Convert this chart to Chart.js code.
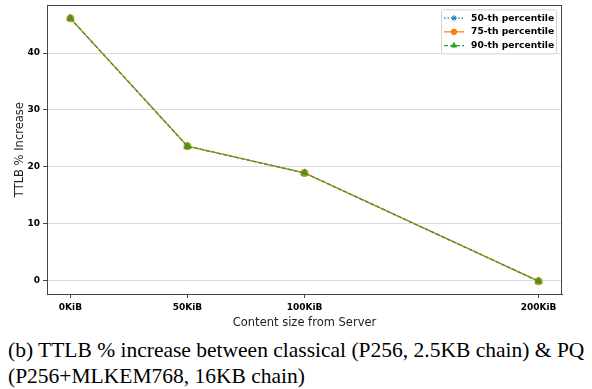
<!DOCTYPE html>
<html>
<head>
<meta charset="utf-8">
<script src="https://cdn.jsdelivr.net/npm/chart.js@4.4.0/dist/chart.umd.min.js"></script>
<style>
  html, body { margin: 0; padding: 0; background: #fff; }
  #wrap { position: relative; width: 592px; height: 330px; }
  #caption {
    font-family: "Liberation Serif", "Times New Roman", serif;
    font-size: 21.5px; line-height: 26px; color: #000;
    margin: 7px 0 0 8px; white-space: nowrap;
  }
</style>
</head>
<body>
<div id="wrap"><canvas id="c" width="592" height="330"></canvas></div>
<div id="caption">(b) TTLB % increase between classical (P256, 2.5KB chain) &amp; PQ<br>(P256+MLKEM768, 16KB chain)</div>
<script>
// ---- data ----
const contentSizes = [0, 50, 100, 200];            // KiB
const p50 = [46.1, 23.6, 18.9, -0.15];
const p75 = [46.1, 23.6, 18.9, -0.15];
const p90 = [46.1, 23.6, 18.9, -0.15];
const seriesLabels = ['50-th percentile', '75-th percentile', '90-th percentile'];
const xTickValues = [0, 50, 100, 200];
const yTickValues = [0, 10, 20, 30, 40];
const xTitle = 'Content size from Server';
const yTitle = 'TTLB % Increase';

const toPts = arr => contentSizes.map((x, i) => ({x: x, y: arr[i]}));

const frame = {
  id: 'frame',
  afterDraw(chart) {
    const {ctx, chartArea: a} = chart;
    ctx.save();
    ctx.strokeStyle = '#444';
    ctx.lineWidth = 1;
    ctx.strokeRect(Math.round(a.left) + 0.5, Math.round(a.top) + 0.5,
                   Math.round(a.right - a.left) - 1, Math.round(a.bottom - a.top));
    ctx.restore();
  }
};

const legendBox = {
  id: 'legendBox',
  afterDraw(chart) {
    const {ctx, chartArea: a} = chart;
    const dsets = chart.data.datasets;
    const boxW = 115, rowH = 13.7;
    const boxH = dsets.length * rowH + 3;
    const x0 = a.right - 6 - boxW, y0 = a.top + 4;
    ctx.save();
    ctx.fillStyle = 'rgba(255,255,255,0.85)';
    ctx.strokeStyle = '#d4d4d4';
    ctx.lineWidth = 1;
    ctx.beginPath();
    if (ctx.roundRect) ctx.roundRect(x0 + 0.5, y0 + 0.5, boxW, boxH, 2); else ctx.rect(x0 + 0.5, y0 + 0.5, boxW, boxH);
    ctx.fill(); ctx.stroke();
    ctx.font = 'bold 9.2px "DejaVu Sans"';
    ctx.textBaseline = 'middle';
    ctx.textAlign = 'left';
    dsets.forEach((d, i) => {
      const cy = y0 + 2 + rowH * (i + 0.5);
      const lx0 = x0 + 3, lx1 = x0 + 23;
      ctx.strokeStyle = d.borderColor;
      ctx.lineWidth = 1.3;
      ctx.setLineDash(d.borderDash || []);
      ctx.beginPath(); ctx.moveTo(lx0, cy); ctx.lineTo(lx1, cy); ctx.stroke();
      ctx.setLineDash([]);
      ctx.fillStyle = d.backgroundColor;
      ctx.strokeStyle = d.borderColor;
      ctx.lineWidth = 1;
      Chart.helpers.drawPoint(ctx, {pointStyle: d.pointStyle, radius: d.pointRadius * 0.85, rotation: 0, borderWidth: 1},
                              (lx0 + lx1) / 2, cy);
      ctx.fillStyle = '#000';
      ctx.fillText(d.label, x0 + 30, cy);
    });
    ctx.restore();
  }
};

new Chart(document.getElementById('c'), {
  type: 'line',
  data: {
    datasets: [
      { label: seriesLabels[0], data: toPts(p50), borderColor: '#1f77b4', backgroundColor: '#1f77b4',
        borderDash: [1.5, 2], borderWidth: 1.3, pointStyle: 'star', pointRadius: 3.5, order: 2 },
      { label: seriesLabels[1], data: toPts(p75), borderColor: '#ff7f0e', backgroundColor: '#ff7f0e',
        borderWidth: 1.3, pointStyle: 'circle', pointRadius: 3.3, order: 1 },
      { label: seriesLabels[2], data: toPts(p90), borderColor: '#2ca02c', backgroundColor: '#2ca02c',
        borderDash: [4, 2], borderWidth: 1.3, pointStyle: 'triangle', pointRadius: 3.5, order: 0 }
    ]
  },
  options: {
    responsive: false,
    animation: false,
    events: [],
    layout: { padding: { top: 2, right: 30, left: 0, bottom: 0 } },
    plugins: { legend: { display: false }, tooltip: { enabled: false } },
    elements: { line: { tension: 0 }, point: { borderWidth: 1 } },
    scales: {
      x: {
        type: 'linear',
        min: -10, max: 210,
        afterBuildTicks: s => { s.ticks = xTickValues.map(v => ({value: v})); },
        afterFit: s => { s.height = 36; s.paddingLeft = 0; s.paddingRight = 0; },
        ticks: { callback: v => v + 'KiB', color: '#000', padding: 4,
                 font: { family: 'DejaVu Sans', size: 9, weight: 'bold' }, maxRotation: 0, autoSkip: false },
        grid: { drawOnChartArea: false, tickLength: 4, tickColor: '#444' },
        border: { display: true, color: '#444' },
        title: { display: true, text: xTitle, color: '#222', padding: { top: 0, bottom: 0 },
                 font: { family: 'DejaVu Sans', size: 11.5 } }
      },
      y: {
        min: -2.4, max: 48.4,
        afterBuildTicks: s => { s.ticks = yTickValues.map(v => ({value: v})); },
        afterFit: s => { s.width = 47; s.paddingTop = 0; s.paddingBottom = 0; },
        ticks: { color: '#000', padding: 3, font: { family: 'DejaVu Sans', size: 9, weight: 'bold' } },
        grid: { color: '#dcdcdc', lineWidth: 1, tickLength: 4, tickColor: '#444' },
        border: { display: true, color: '#444' },
        title: { display: true, text: yTitle, color: '#222', padding: { top: 13, bottom: 0 },
                 font: { family: 'DejaVu Sans', size: 11.5 } }
      }
    }
  },
  plugins: [frame, legendBox]
});
</script>
</body>
</html>
